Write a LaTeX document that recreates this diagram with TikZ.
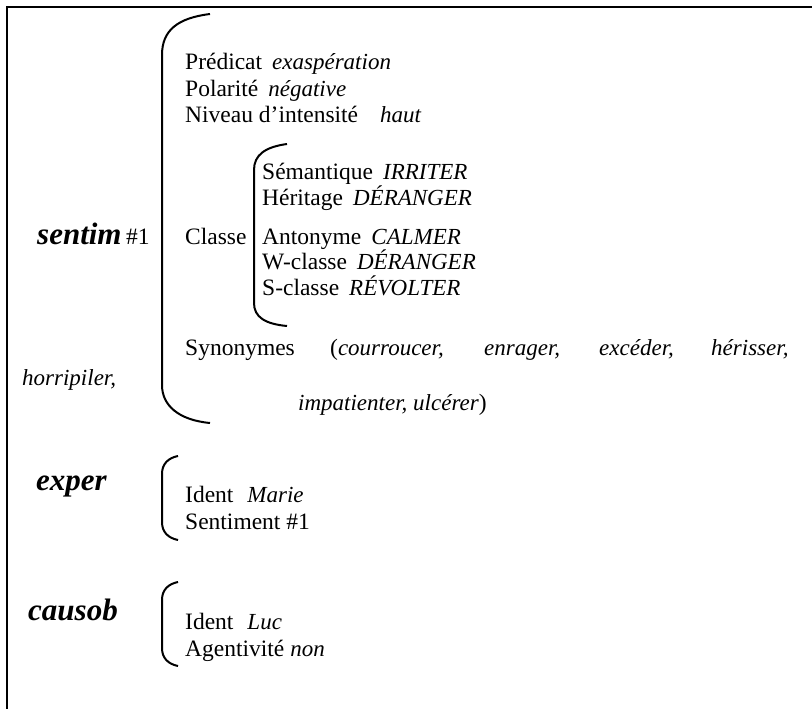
\documentclass[tikz,border=0pt]{standalone}
\usepackage{fontspec}
\setmainfont{Liberation Serif}
\newcommand\val[1]{{\fontsize{23}{27}\selectfont\itshape #1}}
\tikzset{
  txt/.style={anchor=base west,inner sep=0pt,font=\fontsize{23.5}{27}\selectfont},
  role/.style={anchor=base west,inner sep=0pt,font=\fontsize{31}{33}\selectfont\bfseries\itshape},
  brace/.style={line width=2pt}
}
\begin{document}
\begin{tikzpicture}[x=1pt,y=-1pt]
		\useasboundingbox (0,0) rectangle (812,709);
		% frame
		\draw[line width=2.7pt] (812,7) -- (7,7) -- (7,709);
		% sentim
		\node[role] (sentim) at (37,244) {sentim};
		\node[txt] (num) at ([xshift=4pt]sentim.base east) {\#1};
		\draw[brace] (210,14) .. controls (178,18) and (162,30) .. (162,55) -- (162,385) .. controls (162,405) and (178,420) .. (210,423);
		\node[txt] (pred) at (185,70) {Prédicat\hspace{10pt}\val{exaspération}};
		\node[txt] (pol) at (185,96) {Polarité\hspace{10pt}\val{négative}};
		\node[txt] (niv) at (185,122) {Niveau d'intensité\hspace{22pt}\val{haut}};
		\node[txt] (classe) at (185,244) {Classe};
		\draw[brace] (287,144) .. controls (265,147) and (254,155) .. (254,170) -- (254,303) .. controls (254,317) and (265,324) .. (287,326);
		\node[txt] (sem) at (262,179) {Sémantique\hspace{10pt}\val{IRRITER}};
		\node[txt] (her) at (262,205) {Héritage\hspace{10pt}\val{DÉRANGER}};
		\node[txt] (ant) at (262,244) {Antonyme\hspace{10pt}\val{CALMER}};
		\node[txt] (wcl) at (262,269) {W-classe\hspace{10pt}\val{DÉRANGER}};
		\node[txt] (scl) at (262,295) {S-classe\hspace{10pt}\val{RÉVOLTER}};
		% synonymes
		\node[txt] (syn) at (185,355) {Synonymes};
		\node[txt] (courr) at (330,355) {(\val{courroucer,}};
		\node[txt] (enr) at (484,355) {\val{enrager,}};
		\node[txt] (exc) at (599,355) {\val{excéder,}};
		\node[txt] (heri) at (711,355) {\val{hérisser,}};
		\node[txt] (horr) at (22,385) {\val{horripiler,}};
		\node[txt] (impat) at (298,410) {\val{impatienter, ulcérer})};
		% exper
		\node[role] (exper) at (36,490) {exper};
		\draw[brace] (178,456) .. controls (168,458) and (162,464) .. (162,474) -- (162,522) .. controls (162,532) and (168,538) .. (178,540);
		\node[txt] (identA) at (185,502) {Ident\hspace{14pt}\val{Marie}};
		\node[txt] (sentA) at (185,529) {Sentiment \#1};
		% causob
		\node[role] (causob) at (28,620) {causob};
		\draw[brace] (178,582) .. controls (168,584) and (162,590) .. (162,600) -- (162,648) .. controls (162,658) and (168,664) .. (178,666);
		\node[txt] (identB) at (185,629) {Ident\hspace{14pt}\val{Luc}};
		\node[txt] (agent) at (185,656) {Agentivité \val{non}};
\end{tikzpicture}
\end{document}
